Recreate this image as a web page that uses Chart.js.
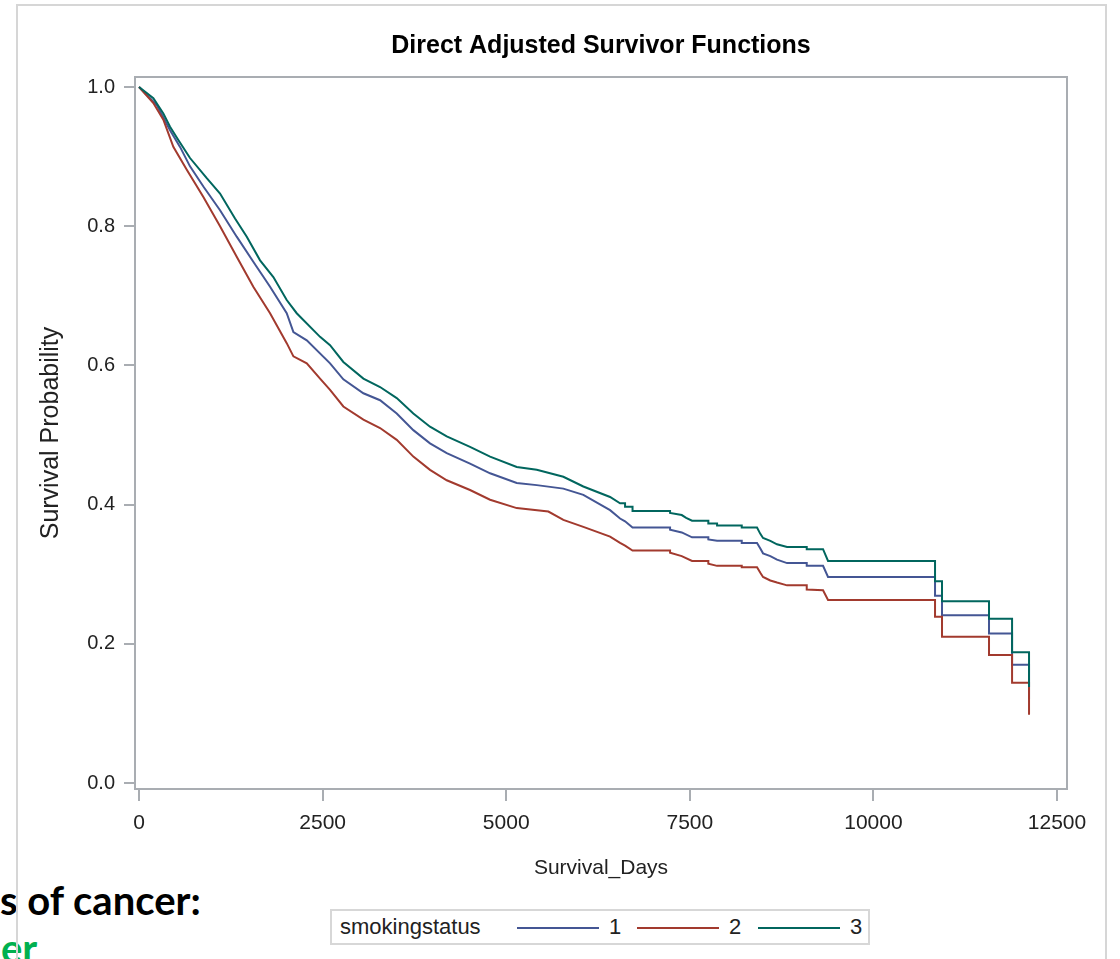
<!DOCTYPE html>
<html>
<head>
<meta charset="utf-8">
<script src="https://cdn.jsdelivr.net/npm/chart.js"></script>
<style>
  html, body { margin: 0; padding: 0; background: #fff; }
  body { width: 1120px; height: 959px; overflow: hidden; position: relative; }
  .bgtext { position: absolute; font-family: Lato, 'Open Sans', sans-serif; font-weight: bold; font-size: 40px; line-height: 40px; white-space: nowrap; }
  #outer { position: absolute; left: 16px; top: 4px; width: 1087px; height: 1000px; border: 2px solid #d6d6d6; }
  #km { position: absolute; left: 0; top: 0; }
  #legend { position: absolute; left: 330px; top: 909px; width: 536px; height: 32px; border: 2px solid #d7d7d7; background: #fff;
            font-family: 'Liberation Sans', Arial, sans-serif; font-size: 22px; color: #222; }
  #legend span, #legend i { position: absolute; }
  #legend i { height: 2px; top: 16px; width: 82px; }
  #legend span { top: 0; line-height: 32px; }
</style>
</head>
<body>
<div class="bgtext" style="left:0; top:880px; color:#000;">s of cancer:</div>
<div class="bgtext" style="left:1px; top:928px; color:#00b050;">er</div>
<div id="outer"></div>
<canvas id="km" width="1120" height="959"></canvas>
<div id="legend"></div>
<script>
// groups and colours
var groups = ['1', '2', '3'];
var colors = ['#445694', '#a23a2e', '#01665e'];
var xTicks = [0, 2500, 5000, 7500, 10000, 12500];
var yTicks = [0, 0.2, 0.4, 0.6, 0.8, 1.0];

// smokingstatus = 1
var days1 = [0, 241, 422, 558, 694, 876, 1103, 1330, 1556, 1784, 2011, 2102, 2284, 2601, 2782, 3055, 3282, 3509, 3735, 3962, 4190, 4507, 4780, 5143, 5416, 5778, 6050, 6414,
  6550, 6618, 6720, 7231, 7231, 7390, 7530, 7752, 7752, 7871, 8207, 8207, 8415, 8460, 8497, 8596, 8687, 8824, 9092, 9092, 9314, 9382,
  10839, 10839, 10934, 10934, 11574, 11574, 11888, 11888, 12119, 12119];
var surv1 = [1.0, 0.974, 0.938, 0.914, 0.886, 0.857, 0.823, 0.785, 0.749, 0.713, 0.675, 0.648, 0.636, 0.603, 0.580, 0.560, 0.550, 0.531, 0.507, 0.488, 0.474, 0.459, 0.445, 0.431, 0.428, 0.423, 0.414, 0.392,
  0.380, 0.376, 0.367, 0.367, 0.364, 0.360, 0.353, 0.353, 0.350, 0.348, 0.348, 0.345, 0.345, 0.337, 0.330, 0.326, 0.321, 0.316, 0.316, 0.312, 0.312, 0.296,
  0.296, 0.269, 0.269, 0.241, 0.241, 0.215, 0.215, 0.170, 0.170, 0.120];

// smokingstatus = 2
var days2 = [0, 195, 331, 467, 650, 876, 1103, 1330, 1556, 1784, 2011, 2102, 2284, 2465, 2601, 2782, 3055, 3282, 3509, 3735, 3962, 4190, 4507, 4780, 5143, 5574, 5778, 6050, 6414,
  6550, 6618, 6720, 7231, 7231, 7390, 7530, 7752, 7752, 7871, 8207, 8207, 8415, 8460, 8497, 8596, 8687, 8824, 9092, 9092, 9314, 9382,
  10839, 10839, 10934, 10934, 11574, 11574, 11888, 11888, 12119, 12119];
var surv2 = [1.0, 0.977, 0.953, 0.914, 0.881, 0.842, 0.800, 0.756, 0.713, 0.675, 0.632, 0.613, 0.603, 0.581, 0.565, 0.541, 0.522, 0.510, 0.493, 0.469, 0.450, 0.435, 0.421, 0.407, 0.395, 0.390, 0.378, 0.368, 0.354,
  0.345, 0.341, 0.334, 0.334, 0.331, 0.326, 0.319, 0.319, 0.315, 0.312, 0.312, 0.310, 0.310, 0.302, 0.296, 0.291, 0.288, 0.284, 0.284, 0.278, 0.277, 0.263,
  0.263, 0.239, 0.239, 0.210, 0.210, 0.184, 0.184, 0.144, 0.144, 0.098];

// smokingstatus = 3
var days3 = [0, 195, 331, 422, 535, 694, 922, 1103, 1307, 1467, 1648, 1829, 2011, 2147, 2465, 2601, 2782, 3055, 3282, 3509, 3735, 3962, 4190, 4507, 4780, 5143, 5416, 5778, 6050, 6414,
  6550, 6618, 6618, 6720, 6720, 7231, 7231, 7390, 7450, 7530, 7752, 7752, 7871, 7871, 8207, 8207, 8415, 8460, 8497, 8596, 8687, 8824, 9092, 9092, 9314, 9382,
  10839, 10839, 10934, 10934, 11574, 11574, 11888, 11888, 12119, 12119];
var surv3 = [1.0, 0.984, 0.962, 0.943, 0.924, 0.898, 0.869, 0.847, 0.811, 0.785, 0.751, 0.727, 0.694, 0.675, 0.641, 0.629, 0.605, 0.581, 0.569, 0.553, 0.531, 0.512, 0.498, 0.483, 0.469, 0.454, 0.450, 0.440, 0.426, 0.411,
  0.402, 0.402, 0.397, 0.397, 0.391, 0.391, 0.388, 0.385, 0.381, 0.377, 0.377, 0.373, 0.373, 0.370, 0.370, 0.367, 0.367, 0.358, 0.352, 0.348, 0.343, 0.339, 0.339, 0.336, 0.336, 0.319,
  0.319, 0.290, 0.290, 0.261, 0.261, 0.236, 0.236, 0.188, 0.188, 0.138];

var allDays = [days1, days2, days3];
var allSurv = [surv1, surv2, surv3];

var sans = "'Liberation Sans', Arial, sans-serif";
var axisColor = '#a9adb2';

var datasets = groups.map(function (g, i) {
  return {
    label: g,
    data: allDays[i].map(function (d, j) { return { x: d, y: allSurv[i][j] }; }),
    borderColor: colors[i],
    borderWidth: 2,
    pointRadius: 0,
    fill: false,
    tension: 0,
    order: 2 - i
  };
});

// frame round the plot area
const plotFrame = {
  id: 'plotFrame',
  beforeDatasetsDraw(chart) {
    const ctx = chart.ctx, a = chart.chartArea;
    ctx.save();
    ctx.strokeStyle = axisColor;
    ctx.lineWidth = 2;
    ctx.strokeRect(a.left, a.top, a.right - a.left, a.bottom - a.top);
    ctx.restore();
  }
};

new Chart('km', {
  type: 'line',
  data: { datasets: datasets },
  options: {
    responsive: false,
    animation: false,
    layout: { padding: { top: 0, left: 0, right: 53, bottom: 0 } },
    plugins: {
      legend: { display: false },
      tooltip: { enabled: false },
      title: {
        display: true,
        fullSize: false,
        text: 'Direct Adjusted Survivor Functions',
        color: '#000',
        font: { family: sans, size: 25, weight: 'bold' },
        padding: { top: 31, bottom: 16 }
      }
    },
    scales: {
      x: {
        type: 'linear',
        min: -55,
        max: 12636,
        afterBuildTicks: function (s) { s.ticks = xTicks.map(function (v) { return { value: v }; }); },
        afterFit: function (s) { s.height = 170; },
        grid: { drawOnChartArea: false, drawTicks: true, tickLength: 12, color: axisColor, lineWidth: 2 },
        border: { display: false },
        ticks: { font: { family: sans, size: 21 }, color: '#222', padding: 10, maxRotation: 0,
                 callback: function (v) { return String(v); } },
        title: { display: true, text: 'Survival_Days', color: '#222',
                 font: { family: sans, size: 21 }, padding: { top: 0, bottom: 78 } }
      },
      y: {
        min: -0.0086,
        max: 1.0144,
        afterBuildTicks: function (s) { s.ticks = yTicks.map(function (v) { return { value: v }; }); },
        afterFit: function (s) { s.width = 135; },
        grid: { drawOnChartArea: false, drawTicks: true, tickLength: 11, color: axisColor, lineWidth: 2 },
        border: { display: false },
        ticks: { font: { family: sans, size: 20 }, color: '#222', padding: 9,
                 callback: function (v) { return v.toFixed(1); } },
        title: { display: true, text: 'Survival Probability', color: '#222',
                 font: { family: sans, size: 25 }, padding: { top: 36, bottom: 0 } }
      }
    }
  },
  plugins: [plotFrame]
});

// legend box
var legend = document.getElementById('legend');
var html = '<span style="left:8px">smokingstatus</span>';
var lineLeft = [185, 305, 426];
groups.forEach(function (g, i) {
  html += '<i style="left:' + lineLeft[i] + 'px;background:' + colors[i] + '"></i>';
  html += '<span style="left:' + (lineLeft[i] + 92) + 'px">' + g + '</span>';
});
legend.innerHTML = html;
</script>
</body>
</html>
